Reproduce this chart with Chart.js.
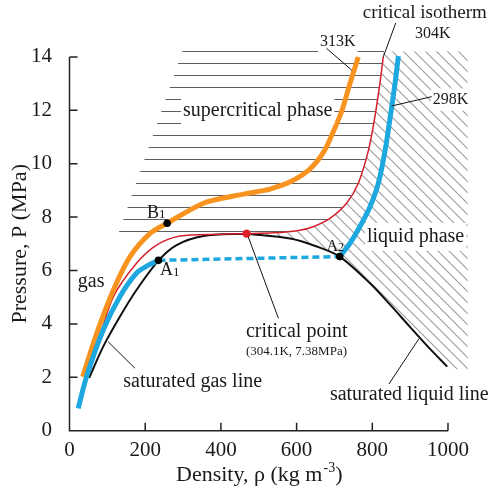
<!DOCTYPE html>
<html>
<head>
<meta charset="utf-8">
<script src="https://cdn.jsdelivr.net/npm/chart.js@4.4.0/dist/chart.umd.min.js"></script>
<style>
  html, body { margin: 0; padding: 0; background: #fff; }
  #wrap { width: 490px; height: 488px; }
</style>
</head>
<body>
<div id="wrap"><canvas id="chart" width="490" height="488"></canvas></div>
<script>
// [density kg/m3, pressure MPa]
const satGasLine = [[52, 1.98], [89, 3.15], [133, 4.27], [177, 5.27], [235, 6.37], [283, 6.95], [354, 7.29], [468, 7.38]];
const satLiquidLine = [[468, 7.38], [583, 7.2], [653, 6.9], [714, 6.52], [794, 5.52], [847, 4.72], [900, 3.88], [950, 3.1], [998, 2.4]];
const iso304 = [[40, 2.0], [75, 3.3], [116, 5.02], [177, 6.27], [230, 6.95], [292, 7.29], [397, 7.36], [468, 7.38], [540, 7.41], [605, 7.5], [644, 7.64], [688, 7.95], [732, 8.52], [763, 9.27], [790, 10.51], [807, 11.76], [820, 13.0], [829, 14.0]];
const iso313 = [[35, 2.02], [72, 3.65], [116, 5.27], [160, 6.52], [213, 7.39], [258, 7.77], [354, 8.52], [430, 8.78], [475, 8.9], [530, 9.05], [583, 9.32], [635, 9.8], [672, 10.45], [700, 11.3], [720, 12.0], [741, 13.0], [763, 14.0]];
const iso298Gas = [[23, 0.84], [45, 2.02], [89, 3.77], [133, 5.02], [177, 5.9], [205, 6.17], [235, 6.38]];
const iso298Tie = [[235, 6.38], [714, 6.52]];
const iso298Liquid = [[714, 6.52], [741, 7.02], [767, 7.64], [794, 8.39], [816, 9.27], [834, 10.51], [850, 12.0], [860, 13.0], [869, 14.03]];
const statePoints = [[235, 6.38], [258, 7.77], [714, 6.52]]; // A1, B1, A2
const criticalPoint = [[468, 7.38]];
// outer edges of the two hatched regions
const superEdge = [[129, 7.38], [302, 14.35], [832, 14.35]];
const liquidEdge = [[829, 14.2], [1052, 14.2], [1052, 2.2]];
const xTicks = [0, 200, 400, 600, 800, 1000];
const yTicks = [0, 2, 4, 6, 8, 10, 12, 14];

const FONT = '"Liberation Serif", "Times New Roman", serif';
const pts = (arr) => arr.map(([x, y]) => ({ x, y }));

function MakePattern(w, h, draw) {
  const c = document.createElement("canvas");
  c.width = w;
  c.height = h;
  const g = c.getContext("2d");
  draw(g, w, h);
  return g.createPattern(c, "repeat");
}

const horizontalHatch = MakePattern(12, 12, (g, w) => {
  g.fillStyle = "#5e5e5e";
  g.fillRect(0, 3, w, 1);
});
const diagonalHatch = MakePattern(11, 11, (g, w, h) => {
  g.strokeStyle = "#9a9a9a";
  g.lineWidth = 1.1;
  [-w, 0, w].forEach((o) => {
    g.beginPath();
    g.moveTo(o, 0);
    g.lineTo(o + w, h);
    g.stroke();
  });
});

// hatched regions, bounded by the 304K isotherm and the saturated liquid line
const superHatch = [...superEdge, ...iso304.filter((p) => p[0] >= 540).reverse()];
const liquidHatch = [...iso304.filter((p) => p[0] >= 468), ...liquidEdge, ...satLiquidLine.slice().reverse()];

const ORANGE = "#f7931e";
const BLUE = "#1ea8e0";
const RED = "#d4202a";

const annotations = {
  id: "annotations",
  afterDatasetsDraw(chart) {
    const { ctx } = chart;
    const xs = chart.scales.x, ys = chart.scales.y;
    const X = (v) => xs.getPixelForValue(v);
    const Y = (v) => ys.getPixelForValue(v);
    ctx.save();

    // 축
    ctx.strokeStyle = "#222";
    ctx.lineWidth = 1.5;
    ctx.beginPath();
    ctx.moveTo(X(0), Y(14));
    ctx.lineTo(X(0), Y(0));
    ctx.lineTo(X(1000), Y(0));
    ctx.stroke();
    ctx.beginPath();
    yTicks.slice(1).forEach((v) => {
      ctx.moveTo(X(0), Y(v));
      ctx.lineTo(X(0) + 8, Y(v));
    });
    xTicks.slice(1).forEach((v) => {
      ctx.moveTo(X(v), Y(0));
      ctx.lineTo(X(v), Y(0) - 8);
    });
    ctx.stroke();

    // 지시선
    ctx.lineWidth = 1;
    ctx.strokeStyle = "#111";
    const leaders = [
      [679, 14.32, 746, 13.5],
      [862, 15.27, 829, 14.0],
      [957, 12.51, 851, 12.16],
      [472, 7.27, 552, 4.21],
      [102, 3.33, 173, 2.34],
      [844, 1.75, 923, 3.44],
    ];

    function Label(text, xv, yv, size, box) {
      ctx.font = `${size}px ${FONT}`;
      ctx.textAlign = "left";
      ctx.textBaseline = "middle";
      const px = X(xv), py = Y(yv);
      if (box) {
        const w = ctx.measureText(text).width;
        ctx.fillStyle = "#fff";
        ctx.fillRect(px - 2, py - size * 0.7, w + 4, size * 1.4);
      }
      ctx.fillStyle = "#1a1a1a";
      ctx.fillText(text, px, py);
    }
    function PointLabel(letter, digit, xv, yv, size) {
      ctx.font = `${size}px ${FONT}`;
      ctx.textAlign = "left";
      ctx.textBaseline = "middle";
      ctx.fillStyle = "#1a1a1a";
      const px = X(xv), py = Y(yv);
      ctx.fillText(letter, px, py);
      const w = ctx.measureText(letter).width;
      ctx.font = `${Math.round(size * 0.72)}px ${FONT}`;
      ctx.fillText(digit, px + w, py + 1.5);
    }

    Label("313K", 662, 14.58, 16, true);
    Label("298K", 960, 12.4, 16, true);
    Label("supercritical phase", 300, 11.99, 20, true);
    Label("liquid phase", 786, 7.26, 20, true);

    ctx.beginPath();
    leaders.forEach(([x1, y1, x2, y2]) => {
      ctx.moveTo(X(x1), Y(y1));
      ctx.lineTo(X(x2), Y(y2));
    });
    ctx.stroke();

    Label("critical isotherm", 775, 15.63, 19, false);
    Label("304K", 913, 14.85, 16, false);
    Label("gas", 22, 5.59, 20, false);
    Label("critical point", 466, 3.71, 20, false);
    Label("(304.1K, 7.38MPa)", 466, 2.96, 13, false);
    Label("saturated gas line", 142, 1.84, 20, false);
    Label("saturated liquid line", 688, 1.34, 20, false);
    PointLabel("A", "1", 239, 5.99, 18);
    PointLabel("B", "1", 205, 8.15, 18);
    PointLabel("A", "2", 679, 6.9, 16);

    // 축 제목
    ctx.fillStyle = "#1a1a1a";
    ctx.save();
    ctx.translate(chart.chartArea.left - 49, Y(7));
    ctx.rotate(-Math.PI / 2);
    ctx.font = `22px ${FONT}`;
    ctx.textAlign = "center";
    ctx.textBaseline = "middle";
    ctx.fillText("Pressure, P (MPa)", 0, 0);
    ctx.restore();

    const main = "Density, \u03c1 (kg m";
    ctx.textAlign = "left";
    ctx.textBaseline = "alphabetic";
    ctx.font = `22px ${FONT}`;
    const w1 = ctx.measureText(main).width;
    const w3 = ctx.measureText(")").width;
    ctx.font = `14px ${FONT}`;
    const w2 = ctx.measureText("-3").width;
    let left = X(500) - (w1 + w2 + w3) / 2;
    const base = Y(0) + 50;
    ctx.font = `22px ${FONT}`;
    ctx.fillText(main, left, base);
    ctx.font = `14px ${FONT}`;
    ctx.fillText("-3", left + w1 + 1, base - 9);
    ctx.font = `22px ${FONT}`;
    ctx.fillText(")", left + w1 + w2 + 1, base);

    ctx.restore();
  },
};

function CurveSet(arr, color, width, order, extra) {
  return { data: pts(arr), borderColor: color, borderWidth: width, order, fill: false, ...extra };
}

new Chart(document.getElementById("chart").getContext("2d"), {
  type: "line",
  data: {
    datasets: [
      { data: pts(statePoints), showLine: false, pointRadius: 3.8, pointBackgroundColor: "#000", pointBorderWidth: 0, order: 0 },
      { data: pts(criticalPoint), showLine: false, pointRadius: 4.2, pointBackgroundColor: "#e0202a", pointBorderWidth: 0, order: 0 },
      CurveSet(iso298Gas, BLUE, 5, 1),
      CurveSet(iso298Liquid, BLUE, 5, 1),
      CurveSet(iso298Tie, BLUE, 3.5, 1, { borderDash: [7, 4], tension: 0 }),
      CurveSet(iso313, ORANGE, 5, 2),
      CurveSet(iso304, RED, 1.5, 3),
      CurveSet(satGasLine, "#111", 2, 3),
      CurveSet(satLiquidLine, "#111", 2, 3),
      { data: pts(superHatch), fill: "shape", backgroundColor: horizontalHatch, borderColor: "transparent", borderWidth: 0, tension: 0, order: 10 },
      { data: pts(liquidHatch), fill: "shape", backgroundColor: diagonalHatch, borderColor: "transparent", borderWidth: 0, tension: 0, order: 10 },
    ],
  },
  options: {
    responsive: false,
    animation: false,
    events: [],
    layout: { padding: { left: 0, right: 19.3, top: 46.2, bottom: 0 } },
    elements: {
      point: { radius: 0 },
      line: { tension: 0.3 },
    },
    plugins: { legend: { display: false }, tooltip: { enabled: false } },
    scales: {
      x: {
        type: "linear",
        min: 0,
        max: 1060,
        grid: { display: false },
        border: { display: false },
        afterBuildTicks: (s) => { s.ticks = xTicks.map((v) => ({ value: v })); },
        afterFit: (s) => { s.height = 57.3; },
        ticks: { padding: -1, maxRotation: 0, autoSkip: false, color: "#1a1a1a", font: { family: FONT, size: 21 }, callback: (v) => String(v) },
      },
      y: {
        type: "linear",
        min: 0,
        max: 14.4,
        grid: { display: false },
        border: { display: false },
        afterBuildTicks: (s) => { s.ticks = yTicks.map((v) => ({ value: v })); },
        afterFit: (s) => { s.width = 69.5; },
        ticks: { padding: 9.5, autoSkip: false, color: "#1a1a1a", font: { family: FONT, size: 21 }, callback: (v) => String(v) },
      },
    },
  },
  plugins: [annotations],
});
</script>
</body>
</html>
